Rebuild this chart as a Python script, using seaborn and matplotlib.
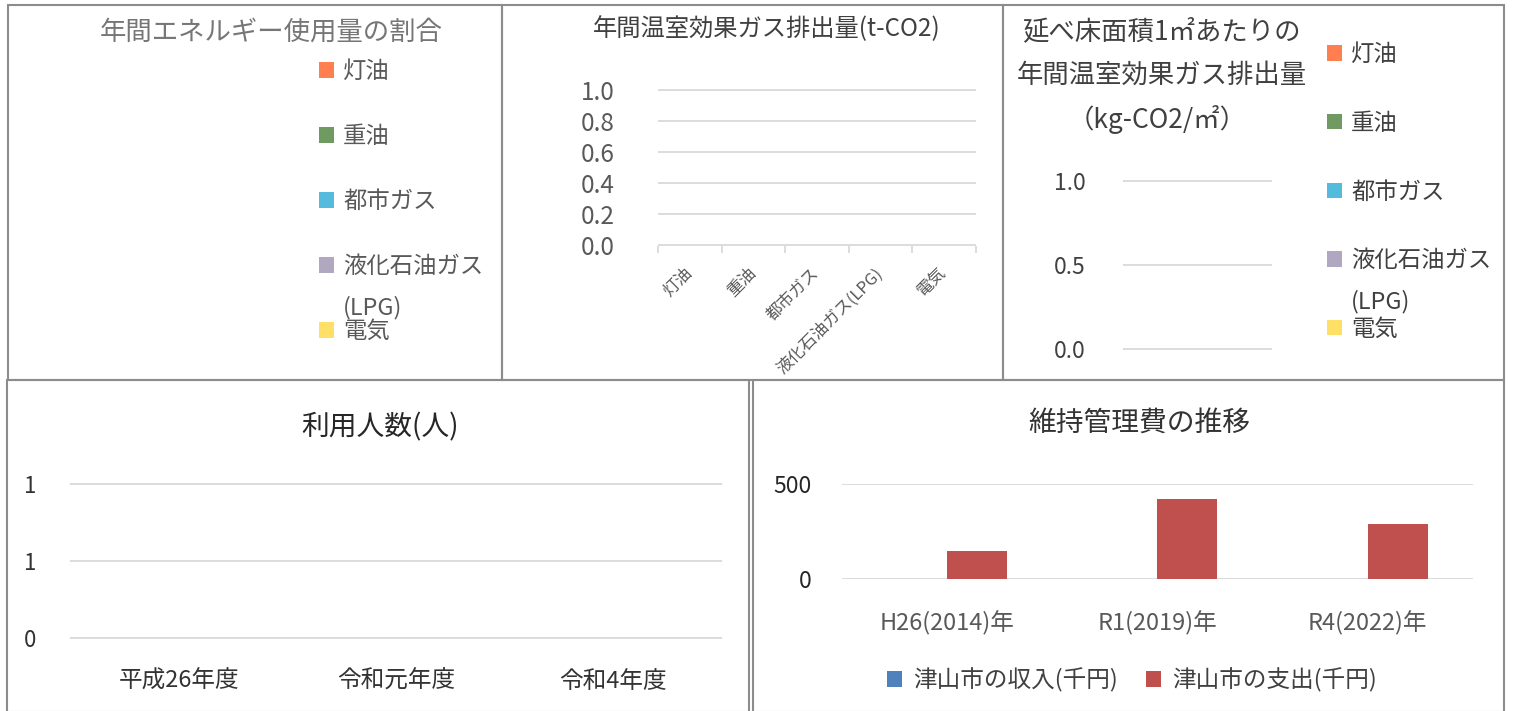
import numpy as np
import pandas as pd
import matplotlib.pyplot as plt
from matplotlib.patches import Patch, Rectangle
import seaborn as sns

sns.set_theme(style="white")
plt.rcParams['font.family'] = ['Noto Sans CJK JP', 'DejaVu Sans']

# data
energy_sources = ['灯油', '重油', '都市ガス', '液化石油ガス(LPG)', '電気']
emission_t = [0, 0, 0, 0, 0]
emission_per_m2 = [0, 0, 0, 0, 0]
energy_colors = ['#FF7F50', '#6F9A62', '#55BBDD', '#B0A8C0', '#FFE066']

years_users = ['平成26年度', '令和元年度', '令和4年度']
users = [0, 0, 0]
users_ticks = [0, 0.5, 1]
users_ticklabels = ['0', '1', '1']

years_cost = ['H26(2014)年', 'R1(2019)年', 'R4(2022)年']
cost_series = ['津山市の収入(千円)', '津山市の支出(千円)']
income = [0, 0, 0]
expense = [144, 420, 291]
cost_colors = ['#4F81BD', '#C0504D']

W, H = 1513, 711
GRID = '#d9d9d9'

fig = plt.figure(figsize=(W / 100, H / 100), dpi=100)


def fx(x):
    return x / W


def fy(y):
    return 1 - y / H


def add_ax(x0, y0, x1, y1):
    return fig.add_axes([fx(x0), fy(y1), (x1 - x0) / W, (y1 - y0) / H])


def style_value_axis(ax, pad, size, color):
    ax.grid(axis='y', color=GRID, lw=1.3)
    ax.grid(axis='x', visible=False)
    ax.set_axisbelow(True)
    sns.despine(ax=ax, left=True, bottom=True)
    ax.set_xlabel('')
    ax.set_ylabel('')
    ax.tick_params(axis='y', length=0, pad=pad, labelsize=size, labelcolor=color)


def energy_legend(ax, x, y, color, spacing):
    handles = [Patch(facecolor=c, edgecolor='none') for c in energy_colors]
    labels = [s.split('(')[0] for s in energy_sources]
    leg = ax.legend(handles, labels, loc='upper left', bbox_to_anchor=(fx(x), fy(y)),
                    bbox_transform=fig.transFigure, frameon=False, fontsize=16.8,
                    handlelength=0.64, handleheight=0.64, handletextpad=0.4,
                    labelspacing=spacing, borderpad=0, borderaxespad=0, labelcolor=color)
    ax.annotate('(LPG)', xy=(0, 0.5), xycoords=leg.get_texts()[3], xytext=(0, -41),
                textcoords='offset pixels', ha='left', va='center', fontsize=16.8,
                color=color, zorder=10)


# panel borders
for x0, y0, x1, y1 in [(8, 5, 502, 380), (502, 5, 1003, 380), (1003, 5, 1504, 380),
                       (7, 380, 749, 712), (753, 380, 1504, 712)]:
    fig.patches.append(Rectangle((fx(x0), fy(y1)), (x1 - x0) / W, (y1 - y0) / H,
                                 transform=fig.transFigure, fill=False,
                                 edgecolor='#8c8c8c', lw=1.5))

# 1: energy share (no data)
ax1 = add_ax(20, 50, 490, 370)
ax1.axis('off')
energy_legend(ax1, 319, 60, '#595959', 1.80)
fig.text(fx(271), fy(32), '年間エネルギー使用量の割合', ha='center', va='center',
         fontsize=19, color='#767676')

# 2: annual GHG emission
ax2 = add_ax(658, 89, 976, 246)
sns.barplot(x=energy_sources, y=emission_t, ax=ax2, color=energy_colors[0], linewidth=0)
ax2.set_xlim(-0.5, 4.5)
ax2.set_ylim(-0.004, 1.004)
ax2.set_yticks(np.arange(0, 1.01, 0.2))
ax2.yaxis.set_major_formatter('{x:.1f}')
style_value_axis(ax2, 31, 17.5, '#595959')
ax2.set_xticks(np.arange(-0.5, 5), minor=True)
ax2.tick_params(axis='x', which='major', length=0, pad=18, labelsize=12, labelcolor='#595959')
ax2.tick_params(axis='x', which='minor', bottom=True, length=5, width=1.3, color=GRID)
for lab in ax2.get_xticklabels():
    lab.set_rotation(45)
    lab.set_ha('right')
    lab.set_va('center')
    lab.set_rotation_mode('anchor')
fig.text(fx(767), fy(29), '年間温室効果ガス排出量(t-CO2)', ha='center', va='center',
         fontsize=17.5, color='#404040')

# 3: emission per floor area
ax3 = add_ax(1123, 180, 1272, 350)
sns.barplot(x=energy_sources, y=emission_per_m2, hue=energy_sources, palette=energy_colors,
            legend=False, linewidth=0, ax=ax3)
ax3.set_xticks([])
ax3.set_ylim(-0.004, 1.004)
ax3.set_yticks([0, 0.5, 1])
ax3.yaxis.set_major_formatter('{x:.1f}')
style_value_axis(ax3, 27, 16.5, '#404040')
energy_legend(ax3, 1327, 43, '#404040', 1.96)
for txt, x, y in [('延べ床面積1㎡あたりの', 1161, 32), ('年間温室効果ガス排出量', 1162, 75),
                  ('（kg-CO2/㎡）', 1157, 120)]:
    fig.text(fx(x), fy(y), txt, ha='center', va='center', fontsize=19, color='#404040')

# 4: number of users
ax4 = add_ax(70, 483, 722, 639)
sns.barplot(x=years_users, y=users, ax=ax4, color=cost_colors[0], linewidth=0)
ax4.set_ylim(-0.004, 1.004)
ax4.set_yticks(users_ticks)
ax4.set_yticklabels(users_ticklabels)
style_value_axis(ax4, 24, 16, '#333333')
ax4.tick_params(axis='x', length=0, pad=22, labelsize=17, labelcolor='#333333')
fig.text(fx(380), fy(427), '利用人数(人)', ha='center', va='center', fontsize=20, color='#262626')

# 5: maintenance cost
cost_df = pd.DataFrame({
    '年': years_cost * 2,
    '系列': [s for s in cost_series for _ in years_cost],
    '金額': income + expense,
})
ax5 = add_ax(842, 484, 1473, 579)
sns.barplot(data=cost_df, x='年', y='金額', hue='系列', palette=cost_colors, width=0.57,
            saturation=1, linewidth=0, legend=False, ax=ax5)
ax5.set_ylim(-2, 502)
ax5.set_yticks([0, 500])
style_value_axis(ax5, 22, 16.5, '#262626')
ax5.tick_params(axis='x', length=0, pad=23, labelsize=17, labelcolor='#595959')
ax5.legend([Patch(facecolor=c, edgecolor='none') for c in cost_colors], cost_series,
           loc='center', bbox_to_anchor=(fx(1132), fy(680)), bbox_transform=fig.transFigure,
           ncol=2, frameon=False, fontsize=17, handlelength=0.64, handleheight=0.64,
           handletextpad=0.47, columnspacing=1.2, borderpad=0, labelcolor='#404040')
fig.text(fx(1139), fy(423), '維持管理費の推移', ha='center', va='center', fontsize=20,
         color='#333333')

fig.savefig('out.png', dpi=100, facecolor='white')
